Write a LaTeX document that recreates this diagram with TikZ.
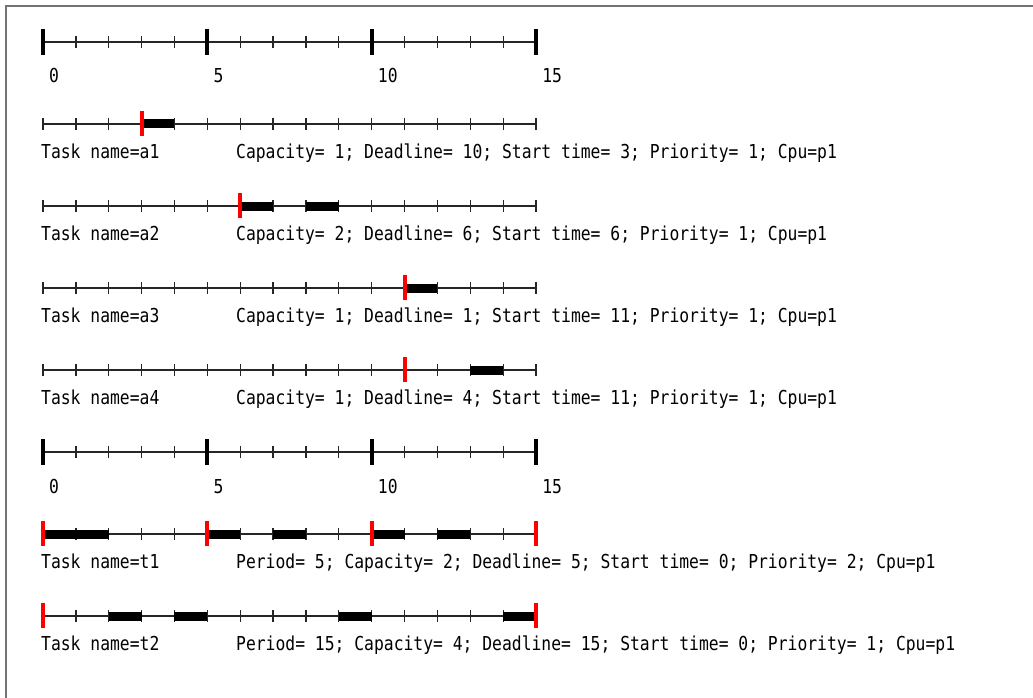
\documentclass[tikz,border=0pt]{standalone}
\usepackage{fontspec}
\setmonofont[FakeStretch=0.852]{DejaVu Sans Mono}
\usetikzlibrary{positioning}

\begin{document}
\begin{tikzpicture}[x=1pt, y=-1pt]

  % ===== Styles =====
  \tikzset{
    axisline/.style={line width=1.3pt, black!85},
    minortick/.style={line width=1.3pt, black!85},
    majortick/.style={line width=4pt, black},
    release/.style={line width=4pt, red},
    runbar/.style={fill=black, draw=none},
    lbl/.style={font=\ttfamily\fontsize{19.2}{19.2}\selectfont, anchor=base west, inner sep=0pt}
  }

  % ===== Canvas (1 unit = 1 px of the reference) =====
  \useasboundingbox (0,0) rectangle (1033,698);
  \draw[line width=1.6pt, black!55] (1033,6) -- (6,6) -- (6,698);

  % time t sits at x = 43 + t*32.87
  \def\tu{32.87}

  % ===== Time scales =====
  \foreach \row/\y in {A/42, B/452} {
    \draw[axisline] (43,\y) -- (536,\y);
    \foreach \t in {1,2,3,4,6,7,8,9,11,12,13,14}
      \draw[minortick] ({43+\t*\tu},\y-6) -- ++(0,12);
    \foreach \t in {0,5,10,15} {
      \draw[majortick] ({43+\t*\tu},\y-13) -- ++(0,26);
      \node[lbl] (scale\row\t) at ({49+\t*\tu},\y+41) {\t};
    }
  }

  % ===== Task rows: name / y / releases / run slots / parameters =====
  \foreach \nm/\y/\rel/\runs/\info in {
    a1/124/3/3/{Capacity= 1; Deadline= 10; Start time= 3; Priority= 1; Cpu=p1},
    a2/206/6/{6,8}/{Capacity= 2; Deadline= 6; Start time= 6; Priority= 1; Cpu=p1},
    a3/288/11/11/{Capacity= 1; Deadline= 1; Start time= 11; Priority= 1; Cpu=p1},
    a4/370/11/13/{Capacity= 1; Deadline= 4; Start time= 11; Priority= 1; Cpu=p1},
    t1/534/{0,5,10,15}/{0,1,5,7,10,12}/{Period= 5; Capacity= 2; Deadline= 5; Start time= 0; Priority= 2; Cpu=p1},
    t2/616/{0,15}/{2,4,9,14}/{Period= 15; Capacity= 4; Deadline= 15; Start time= 0; Priority= 1; Cpu=p1}
  } {
    \draw[axisline] (43,\y) -- (536,\y);
    \foreach \t in {0,...,15}
      \draw[minortick] ({43+\t*\tu},\y-6) -- ++(0,12);
    \foreach \t in \runs
      \fill[runbar] ({43+\t*\tu},\y-4.5) rectangle ++(\tu,9);
    \foreach \t in \rel
      \draw[release] ({43+\t*\tu},\y-13) -- ++(0,25);
    \node[lbl] (name\nm) at (41,\y+34) {Task name=\nm};
    \node[lbl] (info\nm) at (236,\y+34) {\info};
  }

\end{tikzpicture}
\end{document}
